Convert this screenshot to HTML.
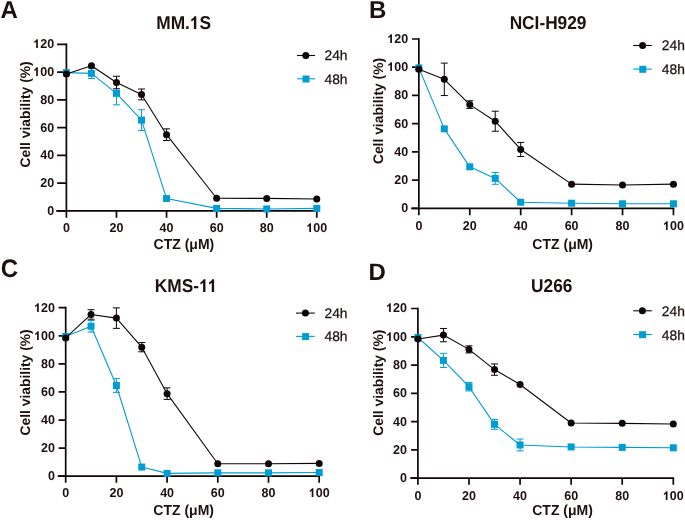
<!DOCTYPE html>
<html><head><meta charset="utf-8"><title>Cell viability vs CTZ</title><style>
html,body{margin:0;padding:0;background:#fff;}
svg{display:block;will-change:transform;filter:blur(0.3px);}
text{font-family:"Liberation Sans",sans-serif;fill:#1c1010;text-rendering:geometricPrecision;}
.tk{font-size:12.5px;font-weight:bold;}
.at{font-size:14px;font-weight:bold;}
.yt{font-size:13.85px;font-weight:bold;}
.tt{font-size:17.3px;font-weight:bold;}
.lt{font-size:24px;font-weight:bold;}
.lg{font-size:13.8px;stroke:#1c1010;stroke-width:0.25px;}
.h1{fill-opacity:0;}
</style></head><body>
<svg width="685" height="520" viewBox="0 0 685 520">
<rect width="685" height="520" fill="#fff"/>
<path d="M66.4 44.34V210.9M57.1 210.9H316.8" stroke="#0e0607" stroke-width="1.7" fill="none" stroke-linecap="square"/>
<path d="M57.1 210.9H66.4M57.1 183.14H66.4M57.1 155.38H66.4M57.1 127.62H66.4M57.1 99.86H66.4M57.1 72.1H66.4M57.1 44.34H66.4M66.4 210.9V217.7M116.48 210.9V217.7M166.56 210.9V217.7M216.64 210.9V217.7M266.72 210.9V217.7M316.8 210.9V217.7" stroke="#0e0607" stroke-width="1.7" fill="none"/>
<text transform="translate(54.1 215) scale(1 1.02)" text-anchor="end" class="tk">0</text>
<text transform="translate(54.1 187) scale(1 1.02)" text-anchor="end" class="tk">20</text>
<text transform="translate(54.1 159) scale(1 1.02)" text-anchor="end" class="tk">40</text>
<text transform="translate(54.1 132) scale(1 1.02)" text-anchor="end" class="tk">60</text>
<text transform="translate(54.1 104) scale(1 1.02)" text-anchor="end" class="tk">80</text>
<text transform="translate(54.1 76) scale(1 1.02)" text-anchor="end" class="tk"><tspan class="h1">1</tspan>00</text>
<text transform="translate(54.1 48) scale(1 1.02)" text-anchor="end" class="tk"><tspan class="h1">1</tspan>20</text>
<text transform="translate(66.4 232) scale(1 1.02)" text-anchor="middle" class="tk">0</text>
<text transform="translate(116.48 232) scale(1 1.02)" text-anchor="middle" class="tk">20</text>
<text transform="translate(166.56 232) scale(1 1.02)" text-anchor="middle" class="tk">40</text>
<text transform="translate(216.64 232) scale(1 1.02)" text-anchor="middle" class="tk">60</text>
<text transform="translate(266.72 232) scale(1 1.02)" text-anchor="middle" class="tk">80</text>
<text transform="translate(316.8 232) scale(1 1.02)" text-anchor="middle" class="tk"><tspan class="h1">1</tspan>00</text>
<text transform="translate(30 114.4) rotate(-90)" text-anchor="middle" class="yt">Cell viability (%)</text>
<text transform="translate(183.9 249) scale(1 1.03)" text-anchor="middle" class="at">CTZ (μM)</text>
<text transform="translate(183.65 29) scale(1 1.08)" text-anchor="middle" class="tt">MM.<tspan class="h1">1</tspan>S</text>
<text transform="translate(0.4 18) scale(1 1.02)" class="lt">A</text>
<polyline points="66.4,72.66 91.44,73.35 116.48,93.34 141.52,120.12 166.56,198.55 216.64,208.4 266.72,208.96 316.8,208.4" stroke="#009dd3" stroke-width="1.1" fill="none" stroke-linejoin="round"/>
<path d="M91.44 68.21V78.48M87.94 68.21h7M87.94 78.48h7M116.48 81.82V104.86M112.98 81.82h7M112.98 104.86h7M141.52 109.71V130.53M138.02 109.71h7M138.02 130.53h7" stroke="#009dd3" stroke-width="1.0" fill="none"/>
<rect x="62.9" y="69.16" width="7.0" height="7.0" fill="#009dd3"/>
<rect x="87.94" y="69.85" width="7.0" height="7.0" fill="#009dd3"/>
<rect x="112.98" y="89.84" width="7.0" height="7.0" fill="#009dd3"/>
<rect x="138.02" y="116.62" width="7.0" height="7.0" fill="#009dd3"/>
<rect x="163.06" y="195.05" width="7.0" height="7.0" fill="#009dd3"/>
<rect x="213.14" y="204.9" width="7.0" height="7.0" fill="#009dd3"/>
<rect x="263.22" y="205.46" width="7.0" height="7.0" fill="#009dd3"/>
<rect x="313.3" y="204.9" width="7.0" height="7.0" fill="#009dd3"/>
<polyline points="66.4,74.04 91.44,65.72 116.48,82.51 141.52,94.45 166.56,134.7 216.64,198.27 266.72,198.41 316.8,198.96" stroke="#0e0607" stroke-width="1.1" fill="none" stroke-linejoin="round"/>
<path d="M116.48 76.26V88.76M112.98 76.26h7M112.98 88.76h7M141.52 89.03V99.86M138.02 89.03h7M138.02 99.86h7M166.56 128.87V140.53M163.06 128.87h7M163.06 140.53h7" stroke="#0e0607" stroke-width="1.0" fill="none"/>
<circle cx="66.4" cy="74.04" r="3.5" fill="#0e0607"/>
<circle cx="91.44" cy="65.72" r="3.5" fill="#0e0607"/>
<circle cx="116.48" cy="82.51" r="3.5" fill="#0e0607"/>
<circle cx="141.52" cy="94.45" r="3.5" fill="#0e0607"/>
<circle cx="166.56" cy="134.7" r="3.5" fill="#0e0607"/>
<circle cx="216.64" cy="198.27" r="3.5" fill="#0e0607"/>
<circle cx="266.72" cy="198.41" r="3.5" fill="#0e0607"/>
<circle cx="316.8" cy="198.96" r="3.5" fill="#0e0607"/>
<path d="M297 55.5H315" stroke="#0e0607" stroke-width="1.1"/>
<circle cx="305.8" cy="55.5" r="3.5" fill="#0e0607"/>
<path d="M297 78.8H315" stroke="#009dd3" stroke-width="1.1"/>
<rect x="302.5" y="75.5" width="7.0" height="7.0" fill="#009dd3"/>
<text transform="translate(324.5 60)" class="lg">24h</text>
<text transform="translate(324.5 84)" class="lg">48h</text>
<path d="M418.85 38.98V208.3M412 208.3H673.45" stroke="#0e0607" stroke-width="1.7" fill="none" stroke-linecap="square"/>
<path d="M412 208.3H418.85M412 180.08H418.85M412 151.86H418.85M412 123.64H418.85M412 95.42H418.85M412 67.2H418.85M412 38.98H418.85M418.85 208.3V215.3M469.77 208.3V215.3M520.69 208.3V215.3M571.61 208.3V215.3M622.53 208.3V215.3M673.45 208.3V215.3" stroke="#0e0607" stroke-width="1.7" fill="none"/>
<text transform="translate(408.2 212) scale(1 1.02)" text-anchor="end" class="tk">0</text>
<text transform="translate(408.2 184) scale(1 1.02)" text-anchor="end" class="tk">20</text>
<text transform="translate(408.2 156) scale(1 1.02)" text-anchor="end" class="tk">40</text>
<text transform="translate(408.2 128) scale(1 1.02)" text-anchor="end" class="tk">60</text>
<text transform="translate(408.2 99) scale(1 1.02)" text-anchor="end" class="tk">80</text>
<text transform="translate(408.2 71) scale(1 1.02)" text-anchor="end" class="tk"><tspan class="h1">1</tspan>00</text>
<text transform="translate(408.2 43) scale(1 1.02)" text-anchor="end" class="tk"><tspan class="h1">1</tspan>20</text>
<text transform="translate(418.85 230) scale(1 1.02)" text-anchor="middle" class="tk">0</text>
<text transform="translate(469.77 230) scale(1 1.02)" text-anchor="middle" class="tk">20</text>
<text transform="translate(520.69 230) scale(1 1.02)" text-anchor="middle" class="tk">40</text>
<text transform="translate(571.61 230) scale(1 1.02)" text-anchor="middle" class="tk">60</text>
<text transform="translate(622.53 230) scale(1 1.02)" text-anchor="middle" class="tk">80</text>
<text transform="translate(673.45 230) scale(1 1.02)" text-anchor="middle" class="tk"><tspan class="h1">1</tspan>00</text>
<text transform="translate(382.8 111) rotate(-90)" text-anchor="middle" class="yt">Cell viability (%)</text>
<text transform="translate(562.7 249) scale(1 1.03)" text-anchor="middle" class="at">CTZ (μM)</text>
<text transform="translate(548.05 29) scale(1 1.08)" text-anchor="middle" class="tt">NCI-H929</text>
<text transform="translate(368.9 18) scale(1 1.02)" class="lt">B</text>
<polyline points="418.85,67.91 444.31,128.86 469.77,166.82 495.23,178.39 520.69,202.23 571.61,203.22 622.53,203.78 673.45,203.78" stroke="#009dd3" stroke-width="1.1" fill="none" stroke-linejoin="round"/>
<path d="M495.23 172.46V184.31M491.73 172.46h7M491.73 184.31h7" stroke="#009dd3" stroke-width="1.0" fill="none"/>
<rect x="415.35" y="64.41" width="7.0" height="7.0" fill="#009dd3"/>
<rect x="440.81" y="125.36" width="7.0" height="7.0" fill="#009dd3"/>
<rect x="466.27" y="163.32" width="7.0" height="7.0" fill="#009dd3"/>
<rect x="491.73" y="174.89" width="7.0" height="7.0" fill="#009dd3"/>
<rect x="517.19" y="198.73" width="7.0" height="7.0" fill="#009dd3"/>
<rect x="568.11" y="199.72" width="7.0" height="7.0" fill="#009dd3"/>
<rect x="619.03" y="200.28" width="7.0" height="7.0" fill="#009dd3"/>
<rect x="669.95" y="200.28" width="7.0" height="7.0" fill="#009dd3"/>
<polyline points="418.85,69.32 444.31,79.33 469.77,104.59 495.23,121.24 520.69,149.46 571.61,184.17 622.53,185.02 673.45,184.17" stroke="#0e0607" stroke-width="1.1" fill="none" stroke-linejoin="round"/>
<path d="M444.31 63.11V95.56M440.81 63.11h7M440.81 95.56h7M469.77 100.78V108.4M466.27 100.78h7M466.27 108.4h7M495.23 111.22V131.26M491.73 111.22h7M491.73 131.26h7M520.69 142.41V156.52M517.19 142.41h7M517.19 156.52h7" stroke="#0e0607" stroke-width="1.0" fill="none"/>
<circle cx="418.85" cy="69.32" r="3.5" fill="#0e0607"/>
<circle cx="444.31" cy="79.33" r="3.5" fill="#0e0607"/>
<circle cx="469.77" cy="104.59" r="3.5" fill="#0e0607"/>
<circle cx="495.23" cy="121.24" r="3.5" fill="#0e0607"/>
<circle cx="520.69" cy="149.46" r="3.5" fill="#0e0607"/>
<circle cx="571.61" cy="184.17" r="3.5" fill="#0e0607"/>
<circle cx="622.53" cy="185.02" r="3.5" fill="#0e0607"/>
<circle cx="673.45" cy="184.17" r="3.5" fill="#0e0607"/>
<path d="M633.2 45.5H651.8" stroke="#0e0607" stroke-width="1.1"/>
<circle cx="642.6" cy="45.5" r="3.5" fill="#0e0607"/>
<path d="M633.2 69.1H651.8" stroke="#009dd3" stroke-width="1.1"/>
<rect x="639.3" y="65.8" width="7.0" height="7.0" fill="#009dd3"/>
<text transform="translate(661.8 50)" class="lg">24h</text>
<text transform="translate(661.8 74)" class="lg">48h</text>
<path d="M65.7 307.72V476.2M58.6 476.2H319.2" stroke="#0e0607" stroke-width="1.7" fill="none" stroke-linecap="square"/>
<path d="M58.6 476.2H65.7M58.6 448.12H65.7M58.6 420.04H65.7M58.6 391.96H65.7M58.6 363.88H65.7M58.6 335.8H65.7M58.6 307.72H65.7M65.7 476.2V482.7M116.4 476.2V482.7M167.1 476.2V482.7M217.8 476.2V482.7M268.5 476.2V482.7M319.2 476.2V482.7" stroke="#0e0607" stroke-width="1.7" fill="none"/>
<text transform="translate(55 480) scale(1 1.02)" text-anchor="end" class="tk">0</text>
<text transform="translate(55 452) scale(1 1.02)" text-anchor="end" class="tk">20</text>
<text transform="translate(55 424) scale(1 1.02)" text-anchor="end" class="tk">40</text>
<text transform="translate(55 396) scale(1 1.02)" text-anchor="end" class="tk">60</text>
<text transform="translate(55 368) scale(1 1.02)" text-anchor="end" class="tk">80</text>
<text transform="translate(55 340) scale(1 1.02)" text-anchor="end" class="tk"><tspan class="h1">1</tspan>00</text>
<text transform="translate(55 312) scale(1 1.02)" text-anchor="end" class="tk"><tspan class="h1">1</tspan>20</text>
<text transform="translate(65.7 497) scale(1 1.02)" text-anchor="middle" class="tk">0</text>
<text transform="translate(116.4 497) scale(1 1.02)" text-anchor="middle" class="tk">20</text>
<text transform="translate(167.1 497) scale(1 1.02)" text-anchor="middle" class="tk">40</text>
<text transform="translate(217.8 497) scale(1 1.02)" text-anchor="middle" class="tk">60</text>
<text transform="translate(268.5 497) scale(1 1.02)" text-anchor="middle" class="tk">80</text>
<text transform="translate(319.2 497) scale(1 1.02)" text-anchor="middle" class="tk"><tspan class="h1">1</tspan>00</text>
<text transform="translate(30.1 382.4) rotate(-90)" text-anchor="middle" class="yt">Cell viability (%)</text>
<text transform="translate(183.65 515) scale(1 1.03)" text-anchor="middle" class="at">CTZ (μM)</text>
<text transform="translate(186.1 292) scale(1 1.08)" text-anchor="middle" class="tt">KMS-<tspan class="h1">1</tspan><tspan class="h1">1</tspan></text>
<text transform="translate(0.7 277) scale(1 1.06)" class="lt">C</text>
<polyline points="65.7,336.5 91.05,326.25 116.4,385.5 141.75,467.07 167.1,473.39 217.8,472.83 268.5,472.83 319.2,472.55" stroke="#009dd3" stroke-width="1.1" fill="none" stroke-linejoin="round"/>
<path d="M91.05 320.5V332.01M87.55 320.5h7M87.55 332.01h7M116.4 378.62V392.38M112.9 378.62h7M112.9 392.38h7" stroke="#009dd3" stroke-width="1.0" fill="none"/>
<rect x="62.2" y="333" width="7.0" height="7.0" fill="#009dd3"/>
<rect x="87.55" y="322.75" width="7.0" height="7.0" fill="#009dd3"/>
<rect x="112.9" y="382" width="7.0" height="7.0" fill="#009dd3"/>
<rect x="138.25" y="463.57" width="7.0" height="7.0" fill="#009dd3"/>
<rect x="163.6" y="469.89" width="7.0" height="7.0" fill="#009dd3"/>
<rect x="214.3" y="469.33" width="7.0" height="7.0" fill="#009dd3"/>
<rect x="265" y="469.33" width="7.0" height="7.0" fill="#009dd3"/>
<rect x="315.7" y="469.05" width="7.0" height="7.0" fill="#009dd3"/>
<polyline points="65.7,337.91 91.05,314.46 116.4,318.11 141.75,347.17 167.1,393.64 217.8,463.7 268.5,463.7 319.2,463.42" stroke="#0e0607" stroke-width="1.1" fill="none" stroke-linejoin="round"/>
<path d="M91.05 309.69V319.23M87.55 309.69h7M87.55 319.23h7M116.4 307.86V328.36M112.9 307.86h7M112.9 328.36h7M141.75 342.54V351.81M138.25 342.54h7M138.25 351.81h7M167.1 387.89V399.4M163.6 387.89h7M163.6 399.4h7" stroke="#0e0607" stroke-width="1.0" fill="none"/>
<circle cx="65.7" cy="337.91" r="3.5" fill="#0e0607"/>
<circle cx="91.05" cy="314.46" r="3.5" fill="#0e0607"/>
<circle cx="116.4" cy="318.11" r="3.5" fill="#0e0607"/>
<circle cx="141.75" cy="347.17" r="3.5" fill="#0e0607"/>
<circle cx="167.1" cy="393.64" r="3.5" fill="#0e0607"/>
<circle cx="217.8" cy="463.7" r="3.5" fill="#0e0607"/>
<circle cx="268.5" cy="463.7" r="3.5" fill="#0e0607"/>
<circle cx="319.2" cy="463.42" r="3.5" fill="#0e0607"/>
<path d="M296 313.1H314.8" stroke="#0e0607" stroke-width="1.1"/>
<circle cx="305.4" cy="313.1" r="3.5" fill="#0e0607"/>
<path d="M296 336.4H314.8" stroke="#009dd3" stroke-width="1.1"/>
<rect x="302.1" y="333.1" width="7.0" height="7.0" fill="#009dd3"/>
<text transform="translate(324.5 318)" class="lg">24h</text>
<text transform="translate(324.5 341)" class="lg">48h</text>
<path d="M417.9 308.52V478.2M411.1 478.2H673.3" stroke="#0e0607" stroke-width="1.7" fill="none" stroke-linecap="square"/>
<path d="M411.1 478.2H417.9M411.1 449.92H417.9M411.1 421.64H417.9M411.1 393.36H417.9M411.1 365.08H417.9M411.1 336.8H417.9M411.1 308.52H417.9M417.9 478.2V484.7M468.98 478.2V484.7M520.06 478.2V484.7M571.14 478.2V484.7M622.22 478.2V484.7M673.3 478.2V484.7" stroke="#0e0607" stroke-width="1.7" fill="none"/>
<text transform="translate(407 482) scale(1 1.02)" text-anchor="end" class="tk">0</text>
<text transform="translate(407 454) scale(1 1.02)" text-anchor="end" class="tk">20</text>
<text transform="translate(407 426) scale(1 1.02)" text-anchor="end" class="tk">40</text>
<text transform="translate(407 397) scale(1 1.02)" text-anchor="end" class="tk">60</text>
<text transform="translate(407 369) scale(1 1.02)" text-anchor="end" class="tk">80</text>
<text transform="translate(407 341) scale(1 1.02)" text-anchor="end" class="tk"><tspan class="h1">1</tspan>00</text>
<text transform="translate(407 312) scale(1 1.02)" text-anchor="end" class="tk"><tspan class="h1">1</tspan>20</text>
<text transform="translate(417.9 500) scale(1 1.02)" text-anchor="middle" class="tk">0</text>
<text transform="translate(468.98 500) scale(1 1.02)" text-anchor="middle" class="tk">20</text>
<text transform="translate(520.06 500) scale(1 1.02)" text-anchor="middle" class="tk">40</text>
<text transform="translate(571.14 500) scale(1 1.02)" text-anchor="middle" class="tk">60</text>
<text transform="translate(622.22 500) scale(1 1.02)" text-anchor="middle" class="tk">80</text>
<text transform="translate(673.3 500) scale(1 1.02)" text-anchor="middle" class="tk"><tspan class="h1">1</tspan>00</text>
<text transform="translate(383 382.7) rotate(-90)" text-anchor="middle" class="yt">Cell viability (%)</text>
<text transform="translate(562.55 515) scale(1 1.03)" text-anchor="middle" class="at">CTZ (μM)</text>
<text transform="translate(551.75 292) scale(1 1.08)" text-anchor="middle" class="tt">U266</text>
<text transform="translate(368.6 280) scale(1 0.99)" class="lt">D</text>
<polyline points="417.9,337.51 443.44,360.41 468.98,386.71 494.52,424.33 520.06,444.97 571.14,446.95 622.22,447.37 673.3,447.8" stroke="#009dd3" stroke-width="1.1" fill="none" stroke-linejoin="round"/>
<path d="M443.44 353.34V367.48M439.94 353.34h7M439.94 367.48h7M468.98 382.47V390.96M465.48 382.47h7M465.48 390.96h7M494.52 419.38V429.28M491.02 419.38h7M491.02 429.28h7M520.06 439.03V450.91M516.56 439.03h7M516.56 450.91h7" stroke="#009dd3" stroke-width="1.0" fill="none"/>
<rect x="414.4" y="334.01" width="7.0" height="7.0" fill="#009dd3"/>
<rect x="439.94" y="356.91" width="7.0" height="7.0" fill="#009dd3"/>
<rect x="465.48" y="383.21" width="7.0" height="7.0" fill="#009dd3"/>
<rect x="491.02" y="420.83" width="7.0" height="7.0" fill="#009dd3"/>
<rect x="516.56" y="441.47" width="7.0" height="7.0" fill="#009dd3"/>
<rect x="567.64" y="443.45" width="7.0" height="7.0" fill="#009dd3"/>
<rect x="618.72" y="443.87" width="7.0" height="7.0" fill="#009dd3"/>
<rect x="669.8" y="444.3" width="7.0" height="7.0" fill="#009dd3"/>
<polyline points="417.9,338.92 443.44,335.1 468.98,349.38 494.52,369.6 520.06,384.45 571.14,423.05 622.22,423.34 673.3,424.04" stroke="#0e0607" stroke-width="1.1" fill="none" stroke-linejoin="round"/>
<path d="M443.44 328.46V341.75M439.94 328.46h7M439.94 341.75h7M468.98 345.85V352.92M465.48 345.85h7M465.48 352.92h7M494.52 363.95V375.26M491.02 363.95h7M491.02 375.26h7" stroke="#0e0607" stroke-width="1.0" fill="none"/>
<circle cx="417.9" cy="338.92" r="3.5" fill="#0e0607"/>
<circle cx="443.44" cy="335.1" r="3.5" fill="#0e0607"/>
<circle cx="468.98" cy="349.38" r="3.5" fill="#0e0607"/>
<circle cx="494.52" cy="369.6" r="3.5" fill="#0e0607"/>
<circle cx="520.06" cy="384.45" r="3.5" fill="#0e0607"/>
<circle cx="571.14" cy="423.05" r="3.5" fill="#0e0607"/>
<circle cx="622.22" cy="423.34" r="3.5" fill="#0e0607"/>
<circle cx="673.3" cy="424.04" r="3.5" fill="#0e0607"/>
<path d="M633.2 310.8H651.8" stroke="#0e0607" stroke-width="1.1"/>
<circle cx="642.4" cy="310.8" r="3.5" fill="#0e0607"/>
<path d="M633.2 334.5H651.8" stroke="#009dd3" stroke-width="1.1"/>
<rect x="639.1" y="331.2" width="7.0" height="7.0" fill="#009dd3"/>
<text transform="translate(661.8 316)" class="lg">24h</text>
<text transform="translate(661.8 340)" class="lg">48h</text>
<g fill="#1c1010"><path transform="translate(33.24 76) scale(0.006104 -0.006226)" d="M759,0L478,0L478,1018Q340,890 165,823L165,1058Q270,1094 385,1194Q495,1294 540,1409L759,1409Z"/><path transform="translate(33.24 48) scale(0.006104 -0.006226)" d="M759,0L478,0L478,1018Q340,890 165,823L165,1058Q270,1094 385,1194Q495,1294 540,1409L759,1409Z"/><path transform="translate(306.37 232) scale(0.006104 -0.006226)" d="M759,0L478,0L478,1018Q340,890 165,823L165,1058Q270,1094 385,1194Q495,1294 540,1409L759,1409Z"/><path transform="translate(189.87 29) scale(0.008447 -0.009123)" d="M759,0L478,0L478,1018Q340,890 165,823L165,1058Q270,1094 385,1194Q495,1294 540,1409L759,1409Z"/><path transform="translate(387.34 71) scale(0.006104 -0.006226)" d="M759,0L478,0L478,1018Q340,890 165,823L165,1058Q270,1094 385,1194Q495,1294 540,1409L759,1409Z"/><path transform="translate(387.34 43) scale(0.006104 -0.006226)" d="M759,0L478,0L478,1018Q340,890 165,823L165,1058Q270,1094 385,1194Q495,1294 540,1409L759,1409Z"/><path transform="translate(663.02 230) scale(0.006104 -0.006226)" d="M759,0L478,0L478,1018Q340,890 165,823L165,1058Q270,1094 385,1194Q495,1294 540,1409L759,1409Z"/><path transform="translate(34.14 340) scale(0.006104 -0.006226)" d="M759,0L478,0L478,1018Q340,890 165,823L165,1058Q270,1094 385,1194Q495,1294 540,1409L759,1409Z"/><path transform="translate(34.14 312) scale(0.006104 -0.006226)" d="M759,0L478,0L478,1018Q340,890 165,823L165,1058Q270,1094 385,1194Q495,1294 540,1409L759,1409Z"/><path transform="translate(308.77 497) scale(0.006104 -0.006226)" d="M759,0L478,0L478,1018Q340,890 165,823L165,1058Q270,1094 385,1194Q495,1294 540,1409L759,1409Z"/><path transform="translate(199.04 292) scale(0.008447 -0.009123)" d="M759,0L478,0L478,1018Q340,890 165,823L165,1058Q270,1094 385,1194Q495,1294 540,1409L759,1409Z"/><path transform="translate(207.71 292) scale(0.008447 -0.009123)" d="M759,0L478,0L478,1018Q340,890 165,823L165,1058Q270,1094 385,1194Q495,1294 540,1409L759,1409Z"/><path transform="translate(386.14 341) scale(0.006104 -0.006226)" d="M759,0L478,0L478,1018Q340,890 165,823L165,1058Q270,1094 385,1194Q495,1294 540,1409L759,1409Z"/><path transform="translate(386.14 312) scale(0.006104 -0.006226)" d="M759,0L478,0L478,1018Q340,890 165,823L165,1058Q270,1094 385,1194Q495,1294 540,1409L759,1409Z"/><path transform="translate(662.87 500) scale(0.006104 -0.006226)" d="M759,0L478,0L478,1018Q340,890 165,823L165,1058Q270,1094 385,1194Q495,1294 540,1409L759,1409Z"/></g>
</svg>
</body></html>
